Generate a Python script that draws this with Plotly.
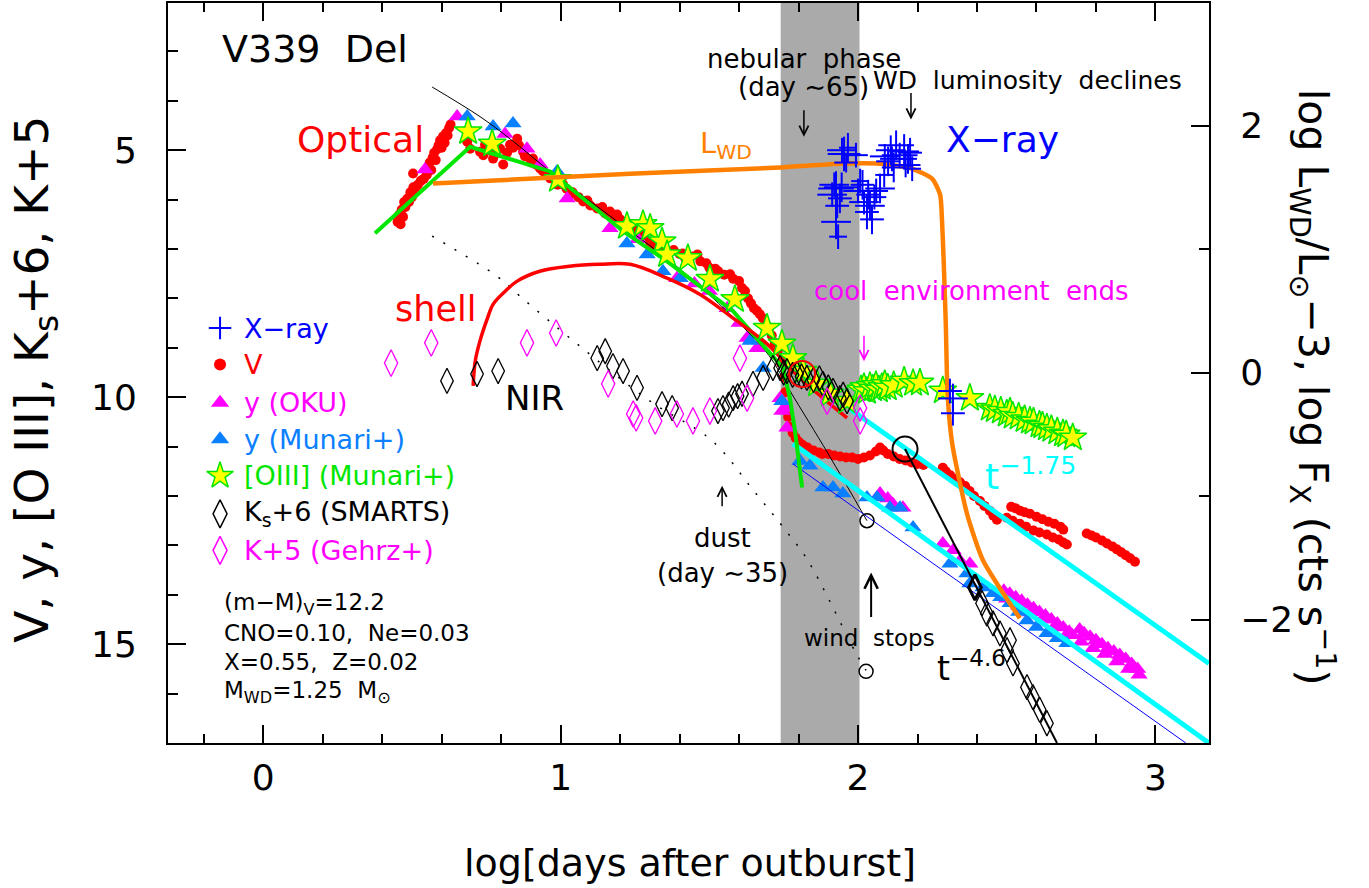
import plotly.graph_objects as go

FONT = "DejaVu Sans"

# ---------------- data (x = log days after outburst) ----------------
V_PTS = [  # (log t, V mag)
    (0.452, 6.45), (0.458, 6.30), (0.462, 6.50), (0.466, 6.20), (0.470, 6.35), (0.474, 6.05), (0.478, 6.15),
    (0.485, 5.98), (0.490, 6.05), (0.495, 5.85), (0.500, 5.95), (0.505, 5.75), (0.510, 5.80), (0.520, 5.70),
    (0.530, 5.62), (0.540, 5.58), (0.550, 5.50), (0.555, 5.35), (0.560, 5.25), (0.565, 5.40), (0.570, 5.15),
    (0.575, 5.05), (0.580, 5.20), (0.585, 4.98), (0.590, 4.90), (0.595, 4.80), (0.600, 4.95), (0.605, 4.72),
    (0.610, 4.85), (0.615, 4.65), (0.620, 4.70), (0.625, 4.55), (0.630, 4.48), (0.504, 5.47),
    (0.686, 4.83), (0.696, 4.97), (0.729, 5.03), (0.746, 4.89), (0.773, 5.17), (0.797, 4.97), (0.807, 5.29),
    (0.830, 4.89), (0.854, 4.77), (0.874, 5.03), (0.907, 5.17), (0.931, 5.37), (0.965, 5.57), (1.008, 5.69),
    (1.032, 5.90), (1.076, 6.04), (1.123, 6.18), (1.166, 6.24), (1.190, 6.30),
    (0.740, 5.10), (0.760, 5.00), (0.780, 5.08), (0.820, 5.05), (0.840, 4.95), (0.860, 4.90), (0.880, 5.12),
    (0.900, 5.25), (0.920, 5.30), (0.940, 5.42), (0.950, 5.50), (0.980, 5.60), (0.990, 5.70), (1.020, 5.78),
    (1.040, 5.85), (1.060, 5.95), (1.090, 6.02), (1.100, 6.12), (1.140, 6.15), (1.150, 6.28), (1.180, 6.35),
    (1.200, 6.40),
    (1.22, 6.45), (1.24, 6.55), (1.26, 6.62), (1.28, 6.72), (1.30, 6.85), (1.31, 6.99), (1.32, 6.95),
    (1.34, 7.05), (1.36, 7.08), (1.38, 7.02), (1.40, 7.10), (1.41, 7.09), (1.42, 7.20), (1.44, 7.15),
    (1.46, 7.11), (1.47, 7.25), (1.49, 7.29), (1.50, 7.38), (1.52, 7.40), (1.53, 7.45), (1.55, 7.52),
    (1.57, 7.51), (1.58, 7.60), (1.60, 7.65), (1.61, 7.79), (1.62, 7.85), (1.63, 8.00), (1.64, 8.10),
    (1.65, 8.20), (1.66, 8.25), (1.67, 8.32), (1.68, 8.40), (1.69, 8.52), (1.70, 8.62), (1.71, 8.75),
    (1.72, 8.90), (1.73, 9.05), (1.74, 9.30), (1.75, 9.60), (1.755, 9.90), (1.76, 10.20), (1.765, 10.40),
    (1.77, 10.60), (1.78, 10.72), (1.79, 10.82), (1.80, 10.90),
    (1.81, 10.95), (1.82, 11.00), (1.83, 11.02), (1.85, 11.08), (1.87, 11.12), (1.88, 11.15), (1.90, 11.15),
    (1.92, 11.18), (1.94, 11.20), (1.96, 11.22), (1.98, 11.22), (2.00, 11.25), (2.02, 11.22), (2.04, 11.18),
    (2.06, 11.10), (2.074, 11.02), (2.085, 11.08), (2.10, 11.15), (2.12, 11.20), (2.14, 11.25), (2.16, 11.28),
    (2.18, 11.32), (2.20, 11.35), (2.22, 11.37),
    (2.285, 11.43), (2.295, 11.50), (2.31, 11.58), (2.325, 11.65), (2.343, 11.72), (2.36, 11.80),
    (2.375, 11.90), (2.39, 12.00), (2.41, 12.10), (2.425, 12.20), (2.443, 12.30), (2.455, 12.40), (2.467, 12.48),
    (2.515, 12.22), (2.53, 12.25), (2.545, 12.30), (2.56, 12.33), (2.578, 12.36), (2.60, 12.42), (2.62, 12.47),
    (2.64, 12.52), (2.66, 12.56), (2.68, 12.62), (2.69, 12.68),
    (2.50, 12.44), (2.52, 12.50), (2.544, 12.56), (2.565, 12.62), (2.59, 12.70), (2.61, 12.74), (2.635, 12.78),
    (2.655, 12.84), (2.675, 12.88), (2.69, 12.94), (2.702, 12.98),
    (2.769, 12.76), (2.785, 12.80), (2.80, 12.84), (2.82, 12.90), (2.837, 12.96), (2.855, 13.02), (2.87, 13.08),
    (2.885, 13.14), (2.90, 13.20), (2.915, 13.26), (2.931, 13.33),
]

Y_OKU_PTS = [
    (0.544, 5.39), (0.652, 4.32), (0.813, 4.67), (0.887, 4.97), (0.931, 5.29), (1.022, 5.98), (1.166, 6.58),
    (1.26, 6.80), (1.391, 7.59), (1.45, 7.70), (1.50, 7.85), (1.560, 8.20), (1.60, 8.50), (1.627, 8.80),
    (1.660, 9.01), (1.738, 10.02), (1.744, 10.28), (1.755, 10.22), (1.761, 10.62),
    (2.074, 11.95), (2.10, 12.05), (2.117, 12.16), (2.151, 12.24), (2.285, 12.96), (2.32, 13.10),
    (2.343, 13.31), (2.376, 13.37),
    (2.49, 13.92), (2.51, 13.98), (2.53, 14.05), (2.55, 14.12), (2.57, 14.20), (2.59, 14.27), (2.61, 14.35),
    (2.63, 14.42), (2.65, 14.50), (2.67, 14.58), (2.69, 14.66), (2.71, 14.75), (2.72, 14.82),
    (2.50, 14.08), (2.54, 14.22), (2.58, 14.36), (2.62, 14.50), (2.66, 14.65), (2.70, 14.82),
    (2.745, 14.70), (2.76, 14.78), (2.78, 14.85), (2.80, 14.92), (2.82, 15.00), (2.84, 15.08), (2.86, 15.15),
    (2.88, 15.22), (2.90, 15.30), (2.92, 15.40), (2.94, 15.50),
    (2.75, 14.95), (2.79, 15.08), (2.83, 15.20), (2.87, 15.35), (2.91, 15.50), (2.945, 15.62),
]

Y_MUNARI_PTS = [
    (0.686, 4.32), (0.773, 4.52), (0.840, 4.46), (0.988, 5.43), (1.223, 6.89), (1.291, 7.11), (1.344, 7.45),
    (1.402, 7.59), (1.637, 8.86), (1.681, 9.41), (1.744, 10.08),
    (1.805, 11.29), (1.838, 11.39), (1.882, 11.83), (1.916, 11.83), (1.949, 11.95), (2.030, 12.03),
    (2.064, 12.03), (2.107, 12.24), (2.141, 12.24), (2.185, 12.64), (2.309, 13.37), (2.366, 13.57),
    (2.376, 13.77), (2.42, 13.85), (2.454, 13.97), (2.48, 14.05), (2.511, 14.17), (2.54, 14.35),
    (2.568, 14.52), (2.60, 14.65), (2.635, 14.78), (2.67, 14.88), (2.702, 14.98),
]

OIII_PTS = [
    (0.689, 4.62), (0.770, 4.87), (0.991, 5.59), (1.223, 6.54), (1.277, 6.50), (1.301, 6.58), (1.341, 6.85),
    (1.358, 7.11), (1.428, 7.19), (1.502, 7.61), (1.586, 8.02), (1.694, 8.60), (1.744, 8.92), (1.781, 9.21),
    (1.815, 9.47), (1.862, 9.73), (1.906, 9.93), (1.963, 10.08),
    (2.01, 9.85), (2.02, 9.80), (2.03, 9.88), (2.04, 9.78), (2.05, 9.83), (2.06, 9.76), (2.07, 9.85),
    (2.08, 9.80), (2.09, 9.74), (2.10, 9.81), (2.12, 9.76), (2.155, 9.67), (2.185, 9.72), (2.208, 9.71),
    (2.285, 9.87), (2.376, 10.02),
    (2.443, 10.22), (2.46, 10.25), (2.48, 10.28), (2.50, 10.34), (2.511, 10.30), (2.52, 10.38), (2.54, 10.40),
    (2.56, 10.45), (2.578, 10.48), (2.59, 10.50), (2.61, 10.56), (2.62, 10.58), (2.635, 10.62), (2.65, 10.65),
    (2.67, 10.70), (2.689, 10.74), (2.70, 10.76), (2.722, 10.82),
]

KS_PTS = [  # Ks + 6 (SMARTS)
    (0.618, 9.67), (0.719, 9.53), (0.790, 9.47),
    (1.123, 9.21), (1.150, 9.07), (1.176, 9.37), (1.210, 9.47), (1.257, 9.81), (1.341, 10.14), (1.375, 10.22),
    (1.529, 10.28), (1.546, 10.22), (1.565, 10.15), (1.580, 10.02), (1.595, 9.98), (1.610, 9.93), (1.647, 9.73),
    (1.681, 9.61), (1.714, 9.41), (1.738, 9.41), (1.750, 9.50), (1.761, 9.47), (1.780, 9.55), (1.795, 9.53),
    (1.810, 9.58), (1.828, 9.61), (1.850, 9.65), (1.870, 9.62), (1.882, 9.73), (1.900, 9.80), (1.916, 9.87),
    (1.939, 10.02), (1.950, 9.95), (1.963, 10.08),
    (2.417, 14.17), (2.433, 14.38), (2.454, 14.58), (2.477, 14.78), (2.511, 14.92), (2.501, 15.12),
    (2.521, 15.39), (2.568, 15.87), (2.588, 16.07), (2.611, 16.33), (2.635, 16.60),
]
KS_BOLD_PT = [(2.393, 13.85)]

K_GEHRZ_PTS = [  # K + 5 (Gehrz+)
    (0.430, 9.31), (0.565, 8.90), (0.887, 8.90), (0.985, 8.70), (1.160, 9.73), (1.244, 10.34), (1.254, 10.42),
    (1.318, 10.48), (1.391, 10.34), (1.445, 10.48), (1.502, 10.28), (1.603, 9.21), (1.627, 10.02),
    (1.896, 10.08), (2.007, 10.22), (2.007, 10.48),
]

# X-ray: (log t, log Fx, err log t, err log Fx)
XRAY_PTS = [
    (1.953, 1.77, 0.055, 0.14), (1.993, 1.76, 0.040, 0.10), (1.966, 1.82, 0.030, 0.12), (1.926, 1.49, 0.060, 0.14),
    (1.913, 1.44, 0.050, 0.10), (1.939, 1.41, 0.040, 0.12), (1.926, 1.22, 0.050, 0.14), (1.933, 1.10, 0.030, 0.10),
    (2.047, 1.24, 0.040, 0.12), (2.020, 1.38, 0.050, 0.10), (2.034, 1.44, 0.040, 0.12), (2.007, 1.55, 0.030, 0.10),
    (2.061, 1.47, 0.040, 0.10), (2.074, 1.49, 0.050, 0.12), (2.088, 1.60, 0.030, 0.10), (2.101, 1.71, 0.040, 0.12),
    (2.128, 1.84, 0.060, 0.12), (2.155, 1.79, 0.050, 0.14), (2.114, 1.73, 0.040, 0.10), (2.168, 1.73, 0.030, 0.12),
    (2.182, 1.65, 0.030, 0.10),
    (1.946, 1.80, 0.050, 0.10), (1.960, 1.70, 0.040, 0.08), (1.920, 1.52, 0.050, 0.10), (1.945, 1.50, 0.060, 0.12),
    (1.930, 1.35, 0.040, 0.10), (2.000, 1.47, 0.050, 0.10), (2.015, 1.52, 0.040, 0.12), (2.040, 1.35, 0.050, 0.12),
    (2.055, 1.42, 0.040, 0.10), (2.090, 1.75, 0.050, 0.10), (2.110, 1.80, 0.050, 0.12), (2.140, 1.76, 0.060, 0.10),
    (2.160, 1.68, 0.050, 0.10), (2.120, 1.66, 0.040, 0.12), (2.175, 1.78, 0.040, 0.12), (2.030, 1.30, 0.040, 0.14),
    (2.309, -0.15, 0.040, 0.10), (2.319, -0.21, 0.050, 0.12), (2.319, -0.33, 0.040, 0.10),
]

# model curves
LWD_CURVE = [(0.571, 1.53), (1.234, 1.61), (1.738, 1.66), (1.939, 1.69), (2.074, 1.69), (2.182, 1.65),
             (2.249, 1.57), (2.276, 1.44), (2.282, 1.25), (2.288, 0.90), (2.295, 0.40), (2.300, -0.10),
             (2.308, -0.40), (2.319, -0.61), (2.366, -1.14), (2.420, -1.52), (2.544, -1.99)]
V_MODEL = [(0.568, 3.72), (0.729, 4.32), (0.83, 4.77), (0.965, 5.43), (1.19, 6.44), (1.40, 7.40),
           (1.60, 8.50), (1.70, 9.15), (1.771, 9.87), (1.90, 11.15), (2.030, 12.50)]
OIII_MODEL = [(0.376, 6.68), (0.696, 4.93), (0.965, 5.43), (1.210, 6.64), (1.358, 7.25), (1.58, 8.26),
              (1.748, 9.41), (1.771, 10.02), (1.788, 10.68), (1.812, 11.83)]
SHELL_MODEL = [(0.706, 9.77), (0.713, 9.27), (0.729, 8.86), (0.753, 8.42), (0.773, 8.12), (0.813, 7.86),
               (0.854, 7.65), (0.93, 7.45), (1.03, 7.35), (1.13, 7.31), (1.234, 7.31), (1.358, 7.59),
               (1.469, 7.92), (1.58, 8.40), (1.694, 8.92), (1.805, 9.61), (1.963, 10.42)]
DUST_MODEL = [(0.568, 6.74), (0.786, 7.55), (0.864, 7.96), (1.055, 8.92), (1.301, 10.08), (1.509, 10.88),
              (1.65, 11.90), (1.765, 12.76), (1.832, 13.31), (1.993, 15.18), (2.027, 15.53)]
CYAN_UPPER = [(1.973, 10.24), (3.18, 15.39)]
CYAN_LOWER = [(1.781, 10.94), (3.18, 17.0)]
BLUE_THIN = [(1.781, 11.35), (3.102, 17.0)]
T46_LINE = [(2.158, 11.05), (2.669, 17.0)]

RED_CIRCLE = [(1.812, 9.53)]
BIG_CIRCLE = [(2.158, 11.05)]
SMALL_CIRCLES = [(2.030, 12.50), (2.027, 15.55)]

NEBULAR_BAND = (1.74, 2.005)

X_TICKS = [0, 1, 2, 3]
Y_TICKS = [5, 10, 15]
Y2_TICKS = [-2, 0, 2]


def xs(p):
    return [a[0] for a in p]


def ys(p):
    return [a[1] for a in p]


RED = "#ff0000"
MAG = "#ff00ff"
BLU = "#0000ff"
TRI_BLUE = "#0a7fff"
GRN = "#00e600"
CYAN = "#00ffff"
ORANGE = "#ff8000"

fig = go.Figure()


def sc(pts, **kw):
    fig.add_trace(go.Scatter(x=xs(pts), y=ys(pts), showlegend=False, hoverinfo="skip", **kw))


sc(V_PTS, mode="markers", marker=dict(symbol="circle", size=10, color=RED))
sc(Y_OKU_PTS, mode="markers", marker=dict(symbol="triangle-up", size=15, color=MAG))
sc(Y_MUNARI_PTS, mode="markers", marker=dict(symbol="triangle-up", size=15, color=TRI_BLUE))

sc(DUST_MODEL, mode="lines", line=dict(color="black", width=1.5, dash="2px,11px", shape="spline"))
sc(V_MODEL, mode="lines", line=dict(color="black", width=1, shape="spline"))
sc(CYAN_UPPER, mode="lines", line=dict(color=CYAN, width=5))
sc(CYAN_LOWER, mode="lines", line=dict(color=CYAN, width=5))
sc(BLUE_THIN, mode="lines", line=dict(color=BLU, width=1))
sc(T46_LINE, mode="lines", line=dict(color="black", width=2))
sc(OIII_MODEL, mode="lines", line=dict(color=GRN, width=4))
sc(SHELL_MODEL, mode="lines", line=dict(color=RED, width=3.5, shape="spline"))

sc(OIII_PTS, mode="markers", marker=dict(symbol="star", size=21, color="#ffff00",
                                         line=dict(color=GRN, width=1.5)))
sc(KS_PTS, mode="markers", marker=dict(symbol="diamond-tall-open", size=18, color="black",
                                       line=dict(color="black", width=1.3)))
sc(KS_BOLD_PT, mode="markers", marker=dict(symbol="diamond-tall-open", size=18, color="black",
                                           line=dict(color="black", width=3)))
sc(K_GEHRZ_PTS, mode="markers", marker=dict(symbol="diamond-tall-open", size=19, color=MAG,
                                            line=dict(color=MAG, width=1.3)))

sc(RED_CIRCLE, mode="markers", marker=dict(symbol="circle-open", size=26, color=RED, line=dict(color=RED, width=2)))
sc(BIG_CIRCLE, mode="markers", marker=dict(symbol="circle-open", size=25, color="black",
                                           line=dict(color="black", width=2)))
sc(SMALL_CIRCLES, mode="markers", marker=dict(symbol="circle-open", size=14, color="black",
                                              line=dict(color="black", width=1.5)))

# right-axis series
fig.add_trace(go.Scatter(x=xs(LWD_CURVE), y=ys(LWD_CURVE), yaxis="y2", mode="lines",
                         line=dict(color=ORANGE, width=4.5, shape="spline", smoothing=0.6),
                         showlegend=False, hoverinfo="skip"))
fig.add_trace(go.Scatter(x=[p[0] for p in XRAY_PTS], y=[p[1] for p in XRAY_PTS], yaxis="y2",
                         mode="markers", marker=dict(size=1, color=BLU),
                         error_x=dict(type="data", array=[p[2] for p in XRAY_PTS], visible=True,
                                      thickness=2, width=0, color=BLU),
                         error_y=dict(type="data", array=[p[3] for p in XRAY_PTS], visible=True,
                                      thickness=2, width=0, color=BLU),
                         showlegend=False, hoverinfo="skip"))

# ---------------- hand-made legend ----------------
LEG_X, LEG_TX = -0.145, -0.071
LEG_ROWS = [8.60, 9.34, 10.11, 10.85, 11.59, 12.36, 13.10]
LEG_ITEMS = [
    ("X−ray", BLU, dict(symbol="cross-thin", size=16, color=BLU, line=dict(color=BLU, width=2))),
    ("V", RED, dict(symbol="circle", size=12, color=RED)),
    ("y (OKU)", MAG, dict(symbol="triangle-up", size=16, color=MAG)),
    ("y (Munari+)", TRI_BLUE, dict(symbol="triangle-up", size=16, color=TRI_BLUE)),
    ("[OIII] (Munari+)", GRN, dict(symbol="star", size=20, color="#ffff00", line=dict(color=GRN, width=1.5))),
    ("K<sub>s</sub>+6 (SMARTS)", "black", dict(symbol="diamond-tall-open", size=20, color="black",
                                               line=dict(color="black", width=1.5))),
    ("K+5 (Gehrz+)", MAG, dict(symbol="diamond-tall-open", size=20, color=MAG, line=dict(color=MAG, width=1.5))),
]

ann = []
for (label, col, mk), row in zip(LEG_ITEMS, LEG_ROWS):
    fig.add_trace(go.Scatter(x=[LEG_X], y=[row], mode="markers", marker=mk, showlegend=False,
                             hoverinfo="skip", cliponaxis=False))
    ann.append(dict(x=LEG_TX, y=row, xref="x", yref="y", text=label, showarrow=False, xanchor="left",
                    yanchor="middle", font=dict(family=FONT, size=27, color=col)))


def txt(x, y, s, size, color="black", xanchor="center"):
    ann.append(dict(x=x, y=y, xref="x", yref="y", text=s, showarrow=False, xanchor=xanchor,
                    yanchor="middle", font=dict(family=FONT, size=size, color=color)))


txt(-0.145, 2.95, "V339  Del", 38, xanchor="left")
txt(0.108, 4.78, "Optical", 36, RED, "left")
txt(0.437, 8.22, "shell", 35, RED, "left")
txt(0.806, 10.02, "NIR", 34, "black", "left")
txt(1.462, 4.90, "L<sub>WD</sub>", 29, ORANGE, "left")
txt(2.289, 4.78, "X−ray", 36, BLU, "left")
txt(1.818, 3.15, "nebular  phase", 26)
txt(1.818, 3.72, "(day ∼65)", 26)
txt(2.571, 3.58, "WD  luminosity  declines", 25)
txt(2.383, 7.86, "cool  environment  ends", 26, MAG)
txt(2.42, 11.55, "t<sup>−1.75</sup>", 36, CYAN, "left")
txt(2.259, 15.45, "t<sup>−4.6</sup>", 33, "black", "left")
txt(1.543, 12.84, "dust", 26)
txt(1.543, 13.55, "(day ∼35)", 26)
txt(2.04, 14.88, "wind  stops", 23)
txt(-0.138, 14.19, "(m−M)<sub>V</sub>=12.2", 23, "black", "left")
txt(-0.138, 14.78, "CNO=0.10,  Ne=0.03", 23, "black", "left")
txt(-0.138, 15.37, "X=0.55,  Z=0.02", 23, "black", "left")
txt(-0.138, 15.97, "M<sub>WD</sub>=1.25  M<sub>⊙</sub>", 23, "black", "left")


def arrow(x, y, ay, color="black", width=1.5, size=1.2):
    ann.append(dict(x=x, y=y, xref="x", yref="y", ax=0, ay=ay, axref="pixel", ayref="pixel", text="",
                    showarrow=True, arrowhead=5, arrowsize=size, arrowwidth=width, arrowcolor=color,
                    standoff=0, startstandoff=0))


arrow(1.818, 4.73, -28)
arrow(2.178, 4.38, -28)
arrow(2.020, 9.27, -27, MAG)
arrow(1.543, 11.79, 22)
arrow(2.044, 13.55, 46, "black", 2, 1.3)

# axis titles
ann.append(dict(x=0.501, y=-0.162, xref="paper", yref="paper", text="log[days after outburst]",
                showarrow=False, xanchor="center", yanchor="middle",
                font=dict(family=FONT, size=38, color="black")))
ann.append(dict(x=-0.128, y=0.492, xref="paper", yref="paper", text="V, y, [O III], K<sub>s</sub>+6, K+5",
                showarrow=False, textangle=-90, xanchor="center", yanchor="middle",
                font=dict(family=FONT, size=47, color="black")))
ann.append(dict(x=1.100, y=0.481, xref="paper", yref="paper",
                text="log L<sub>WD</sub>/L<sub>⊙</sub>−3, log F<sub>X</sub> (cts s<sup>−1</sup>)",
                showarrow=False, textangle=90, xanchor="center", yanchor="middle",
                font=dict(family=FONT, size=41, color="black")))

axis_common = dict(showgrid=False, zeroline=False, showline=True, linewidth=2, linecolor="black",
                   ticks="inside", tickwidth=2, ticklen=18, tickcolor="black",
                   tickfont=dict(family=FONT, size=36, color="black"))

fig.update_layout(
    width=1369, height=888, autosize=False,
    margin=dict(l=168, r=160, t=1, b=145),
    paper_bgcolor="white", plot_bgcolor="white",
    font=dict(family=FONT, color="black"),
    shapes=[dict(type="rect", xref="x", yref="paper", x0=NEBULAR_BAND[0], x1=NEBULAR_BAND[1], y0=0, y1=1,
                 fillcolor="#aaaaaa", line=dict(width=0), layer="below")],
    xaxis=dict(range=[-0.32, 3.18], tickmode="array", tickvals=X_TICKS, mirror="ticks",
               ticklabelstandoff=2,
               minor=dict(tickmode="linear", tick0=0, dtick=0.2, ticks="inside", ticklen=9, tickwidth=2,
                          tickcolor="black"),
               **axis_common),
    yaxis=dict(range=[17.0, 2.02], tickmode="array", tickvals=Y_TICKS, mirror=True,
               ticklabelstandoff=22,
               minor=dict(tickmode="linear", tick0=0, dtick=1, ticks="inside", ticklen=10, tickwidth=2,
                          tickcolor="black"),
               **axis_common),
    yaxis2=dict(range=[-3.0, 2.992], overlaying="y", side="right", anchor="x", tickmode="array",
                tickvals=Y2_TICKS, ticklabelstandoff=22,
                minor=dict(tickmode="linear", tick0=0, dtick=1, ticks="inside", ticklen=10, tickwidth=2,
                           tickcolor="black"),
                **axis_common),
    annotations=ann,
)

fig.write_html("out.html")
